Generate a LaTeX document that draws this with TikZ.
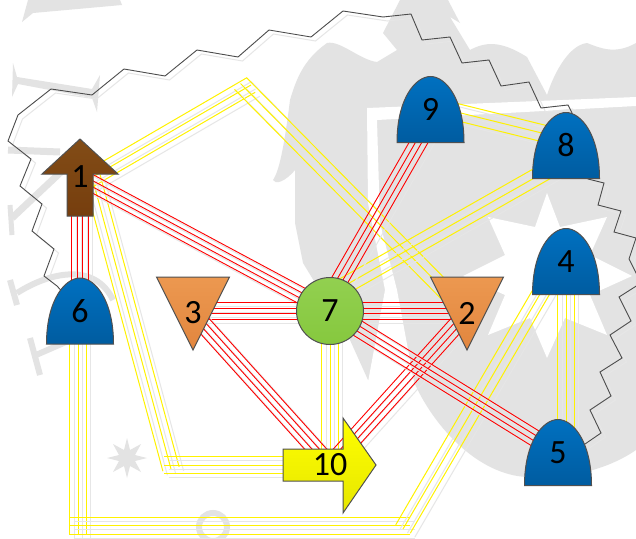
\documentclass[tikz,border=0pt]{standalone}
\usepackage{fontspec}
\setmainfont{Carlito}
\usetikzlibrary{calc}
\pgfdeclarelayer{mark}
\pgfdeclarelayer{links}
\pgfsetlayers{mark,links,main}
\definecolor{markgrey}{RGB}{227,227,227}
\definecolor{shadegrey}{RGB}{230,230,230}
\definecolor{edgegrey}{RGB}{80,80,80}
\tikzset{
    numlabel/.style={inner sep=0pt,font=\fontsize{34}{34}\selectfont},
    shapeedge/.style={draw=edgegrey,line width=1pt},
    bellshape/.style={shapeedge,top color={rgb,255:red,0;green,112;blue,192},bottom color={rgb,255:red,0;green,92;blue,160}},
    orangeshape/.style={shapeedge,top color={rgb,255:red,236;green,152;blue,80},bottom color={rgb,255:red,226;green,134;blue,62}},
    redline/.style={red,line width=.9pt},
    yellowline/.style={yellow,line width=1pt},
    greyline/.style={shadegrey,line width=1pt},
    wireline/.style={black!70,line width=.9pt},
}
\newcommand{\bellnode}[4]{
    \path[bellshape,shift={(#2,#3)}] (-33.5,33) .. controls (-33.5,-11) and (-15,-33) .. (0,-33)
        .. controls (15,-33) and (33.5,-11) .. (33.5,33) -- cycle;
    \node[numlabel] (#1) at (#2,#3) {#4};
}
\newcommand{\wedgenode}[4]{
    \path[orangeshape,shift={(#2,#3)}] (-36.5,-36) -- (36.5,-36) -- (0,37) -- cycle;
    \node[numlabel] (#1) at (#2,#3) {#4};
}
\newcommand{\linkset}[4]{
    \coordinate (la) at #3;
    \coordinate (lb) at #4;
    \foreach \off in {#1} {
        \draw[greyline] ($(la)!\off pt!90:(lb)+(4.5,4)$) -- ($(lb)!\off pt!-90:(la)+(4.5,4)$);
    }
    \foreach \off in {#1} {
        \draw[#2] ($(la)!\off pt!90:(lb)$) -- ($(lb)!\off pt!-90:(la)$);
    }
}
\newcommand{\redlink}[2]{\linkset{-8.25,-2.75,2.75,8.25}{redline}{#1}{#2}}
\newcommand{\yellowlink}[2]{\linkset{-8.4,0,8.4}{yellowline}{#1}{#2}}
\def\wireup{(44,276) -- (54,249) -- (32,231) -- (42,204) -- (20,186) -- (31,159) -- (8,141) -- (18,115)
    -- (51,89) -- (92,95) -- (124,69) -- (165,76) -- (197,50) -- (238,57) -- (269,30) -- (311,37)
    -- (343,11) -- (383,17) -- (411,14) -- (422,40) -- (450,37) -- (462,63) -- (489,60) -- (501,86)
    -- (529,82) -- (541,108) -- (568,105) -- (572,113)}
\def\wiredown{(588,179) -- (604,183) -- (598,205) -- (621,211) -- (614,232) -- (636,238) -- (629,259)
    -- (641,283) -- (619,297) -- (631,321) -- (610,335) -- (622,358) -- (600,372) -- (611,396)
    -- (590,410) -- (601,433) -- (585,444)}
\begin{document}
\begin{tikzpicture}
    [x=1pt,y=-1pt]
    \useasboundingbox (0,0) rectangle (636,538);
    \begin{pgfonlayer}{mark}
        \fill[white] (0,0) rectangle (636,538);
        \fill[markgrey] (290,100) .. controls (296,80) and (303,60) .. (327,43)
            .. controls (340,40) and (360,60) .. (377,62) -- (397,50) -- (383,33) -- (400,0) -- (448,0)
            -- (460,23) -- (450,17) -- (470,50) .. controls (485,42) and (500,40) .. (527,57)
            -- (547,95) .. controls (555,70) and (570,45) .. (587,43)
            .. controls (600,48) and (615,55) .. (636,43) -- (636,450)
            .. controls (600,475) and (550,480) .. (527,477) .. controls (480,475) and (435,430) .. (413,380)
            -- (368,380) -- (350,340) -- (303,263) -- (295,223) -- (295,170)
            .. controls (285,182) and (275,185) .. (273,180) .. controls (280,170) and (285,140) .. (290,100) -- cycle;
        \fill[white] (367,108) -- (636,97) -- (636,106) -- (377,120) -- (380,223) -- (397,290) -- (414,382)
            -- (368,382) -- (385,290) -- (368,203) -- cycle;
        \fill[white] (547,193) -- (560,227) -- (607,217) -- (590,255) -- (632,276) -- (590,295)
            -- (607,335) -- (565,318) -- (547,358) -- (530,318) -- (488,335) -- (505,295)
            -- (463,276) -- (505,255) -- (488,217) -- (535,227) -- cycle;
        \fill[markgrey] (22,22) -- (28,0) -- (120,0) -- (122,5) -- (33,13) -- cycle;
        \fill[markgrey] (13,63) -- (17,77) -- (92,89) -- (100,75) -- (97,112) -- (92,98) -- (18,84) -- (12,97) -- cycle;
        \draw[markgrey,line width=7pt] (8,150) -- (60,152);
        \draw[markgrey,line width=7pt] (12,218) -- (63,170);
        \draw[markgrey,line width=5pt] (10,205) -- (12,235);
        \draw[markgrey,line width=6pt] (10,280) -- (17,305);
        \draw[markgrey,line width=6pt] (17,293) .. controls (50,272) and (95,262) .. (113,300);
        \draw[markgrey,line width=6pt] (30,338) -- (40,375);
        \draw[markgrey,line width=6pt] (36,355) -- (112,322);
        \fill[markgrey] (127,438) -- (130,450) -- (141,444) -- (135,455) -- (147,458) -- (135,461) -- (141,472)
            -- (130,466) -- (127,478) -- (124,466) -- (113,472) -- (119,461) -- (107,458) -- (119,455)
            -- (113,444) -- (124,450) -- cycle;
        \draw[markgrey,line width=6pt] (213,527) circle (14);
    \end{pgfonlayer}

    \path[shapeedge,top color={rgb,255:red,130;green,76;blue,22},bottom color={rgb,255:red,118;green,62;blue,14}]
        (80,139) -- (118,174) -- (93,174) -- (93,216) -- (67,216) -- (67,174) -- (42,174) -- cycle;
    \node[numlabel] (n1) at (80,177) {1};
    \wedgenode{n2}{467}{313}{2}
    \wedgenode{n3}{193}{313}{3}
    \bellnode{n4}{566}{261.5}{4}
    \bellnode{n5}{558}{452.5}{5}
    \bellnode{n6}{80}{311}{6}
    \node[numlabel,circle,minimum size=67pt,shapeedge,top color={rgb,255:red,146;green,208;blue,80},bottom color={rgb,255:red,134;green,200;blue,62}] (n7) at (330,311) {7};
    \bellnode{n8}{566}{145.5}{8}
    \bellnode{n9}{430.5}{109.5}{9}
    \path[shapeedge,top color=yellow,bottom color={rgb,255:red,230;green,230;blue,0}]
        (283,449) -- (343,449) -- (343,418) -- (376,465) -- (343,513) -- (343,481) -- (283,481) -- cycle;
    \node[numlabel] (n10) at (330,465) {10};

    \begin{pgfonlayer}{links}
        \draw[greyline,shift={(4.5,4)}] \wireup;
        \draw[greyline,shift={(4.5,4)}] \wiredown;
        \draw[wireline] (n6) -- (57,286) -- \wireup -- (n8);
        \draw[wireline] (n8) -- \wiredown -- (n5);

        \coordinate (peakA) at (251,85);
        \coordinate (peakB) at (240.5,83.5);
        \coordinate (lowA) at (171,469);
        \coordinate (lowB) at (164,465);
        \coordinate (baseA) at (78,534);
        \coordinate (baseB) at (69,525.7);
        \coordinate (baseC) at (410,525.7);
        \coordinate (baseD) at (403,529);
        \yellowlink{($(n1)+(0,7.5)$)}{(peakA)}
        \yellowlink{(peakB)}{(n2)}
        \yellowlink{($(n1)+(12,0)$)}{(lowA)}
        \yellowlink{(lowB)}{(n10)}
        \yellowlink{($(n6)+(-2,0)$)}{(baseA)}
        \yellowlink{(baseB)}{(baseC)}
        \yellowlink{(baseD)}{($(n4)+(-7,0)$)}
        \yellowlink{(n4)}{($(n5)+(8,0)$)}
        \yellowlink{(n7)}{(n10)}
        \yellowlink{($(n8)+(0,-6.5)$)}{($(n9)+(0,-4)$)}
        \yellowlink{($(n8)+(0,14.5)$)}{($(n7)+(0,-17)$)}

        \redlink{(n1)}{(n6)}
        \redlink{(n1)}{(n7)}
        \redlink{($(n7)+(-8,0)$)}{($(n9)+(7,0)$)}
        \redlink{($(n3)+(0,-2)$)}{(n7)}
        \redlink{(n7)}{($(n2)+(0,-2)$)}
        \redlink{(n3)}{(n10)}
        \redlink{(n10)}{(n2)}
        \redlink{(n7)}{(n5)}
    \end{pgfonlayer}
\end{tikzpicture}
\end{document}
